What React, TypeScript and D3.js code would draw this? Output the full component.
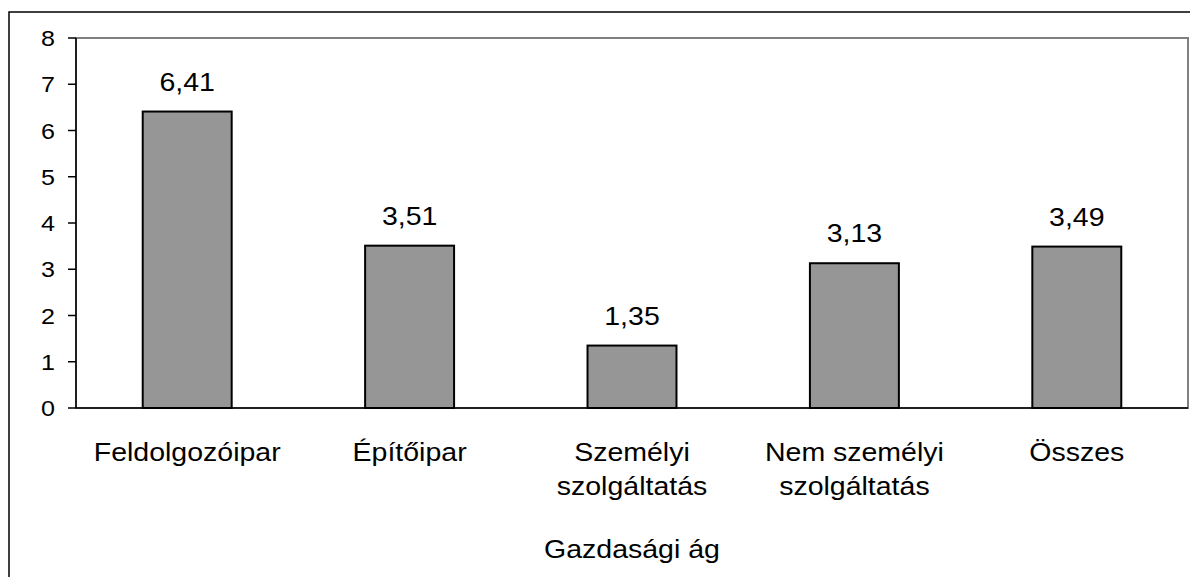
import React from "react";
import * as d3 from "d3";

const categories: string[][] = [
  ["Feldolgozóipar"],
  ["Építőipar"],
  ["Személyi", "szolgáltatás"],
  ["Nem személyi", "szolgáltatás"],
  ["Összes"],
];
const values: number[] = [6.41, 3.51, 1.35, 3.13, 3.49];
const valueLabels: string[] = ["6,41", "3,51", "1,35", "3,13", "3,49"];
const yTicks: number[] = [0, 1, 2, 3, 4, 5, 6, 7, 8];
const axisTitle = "Gazdasági ág";

const W = 1190;
const H = 577;
const plot = { left: 76, right: 1188, top: 38, bottom: 408 };
const FONT = "Liberation Sans, Arial, sans-serif";
const SX = 1.14;

export default function App() {
  const x = d3
    .scaleBand<number>()
    .domain(values.map((_, i) => i))
    .range([plot.left, plot.right])
    .paddingInner(0.6)
    .paddingOuter(0.3);
  const y = d3.scaleLinear().domain([0, 8]).range([plot.bottom, plot.top]);

  const T = (
    key: string,
    tx: number,
    ty: number,
    text: string,
    size: number,
    anchor: "start" | "middle" | "end" = "middle"
  ) => (
    <text
      key={key}
      transform={`translate(${tx},${ty}) scale(${SX},1)`}
      fontFamily={FONT}
      fontSize={size}
      textAnchor={anchor}
      fill="#000"
    >
      {text}
    </text>
  );

  return (
    <div style={{ position: "absolute", left: 0, top: 0 }}>
      <svg width={W} height={H} style={{ display: "block" }}>
        <rect x={0} y={0} width={W} height={H} fill="#fff" />
        {/* outer chart border */}
        <rect x={9} y={12} width={W} height={H} fill="none" stroke="#000" strokeWidth={1.5} />
        {/* plot area border */}
        <rect
          x={plot.left}
          y={plot.top}
          width={plot.right - plot.left}
          height={plot.bottom - plot.top}
          fill="none"
          stroke="#808080"
          strokeWidth={2}
        />
        {/* bars */}
        {values.map((v, i) => (
          <rect
            key={"b" + i}
            x={x(i)!}
            y={y(v)}
            width={x.bandwidth()}
            height={y(0) - y(v)}
            fill="#969696"
            stroke="#000"
            strokeWidth={2}
          />
        ))}
        {/* axes */}
        <line x1={plot.left} x2={plot.left} y1={plot.top} y2={plot.bottom} stroke="#000" strokeWidth={1.5} />
        <line x1={plot.left} x2={plot.right} y1={plot.bottom} y2={plot.bottom} stroke="#000" strokeWidth={1.5} />
        {yTicks.map((t) => (
          <g key={"t" + t}>
            <line x1={plot.left - 8} x2={plot.left} y1={y(t)} y2={y(t)} stroke="#000" strokeWidth={1.5} />
            {T("tl" + t, 55, y(t) + 8, String(t), 22, "end")}
          </g>
        ))}
        {/* value labels */}
        {values.map((v, i) =>
          T("v" + i, x(i)! + x.bandwidth() / 2, y(v) - 21, valueLabels[i], 25)
        )}
        {/* category labels */}
        {categories.map((lines, i) =>
          lines.map((ln, j) =>
            T("c" + i + "_" + j, x(i)! + x.bandwidth() / 2, 461 + j * 34, ln, 25)
          )
        )}
        {T("title", (plot.left + plot.right) / 2, 558, axisTitle, 25)}
      </svg>
    </div>
  );
}
